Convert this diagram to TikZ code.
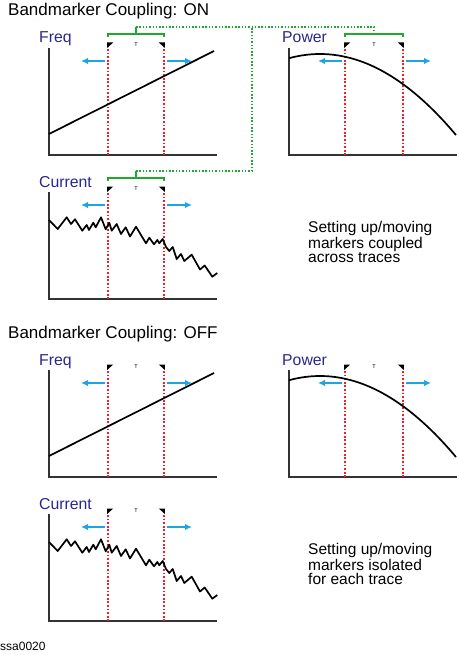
\documentclass[tikz,border=0pt]{standalone}
\usepackage{fontspec}
\setmainfont{Liberation Sans}
\usepackage{tikz}
\usepackage{xcolor}
\usetikzlibrary{positioning,arrows.meta}

\definecolor{lblblue}{RGB}{40,40,140}
\definecolor{mvblue}{RGB}{30,165,225}
\definecolor{mkred}{RGB}{240,30,40}
\definecolor{lnkgreen}{RGB}{30,170,50}

\tikzset{
  axis/.style={line width=1.3pt,black!80},
  trace/.style={line width=1.7pt,black,line join=round},
  mline/.style={line width=1.8pt,mkred,dash pattern=on 1.8pt off 1.8pt},
  mvarrow/.style={line width=1.4pt,mvblue,-{Latex[length=7pt,width=6.5pt]}},
  bracket/.style={line width=1.4pt,lnkgreen},
  link/.style={line width=1.5pt,lnkgreen,dash pattern=on 1.5pt off 1.8pt},
  lbl/.style={font=\fontsize{15.8}{18}\selectfont,text=lblblue,inner sep=0pt},
  heading/.style={font=\fontsize{17}{20}\selectfont,inner sep=0pt},
  note/.style={font=\fontsize{15.5}{14}\selectfont,align=left,inner sep=0pt},
  tmark/.style={font=\fontsize{5.5}{5.5}\selectfont,inner sep=0pt}
}

\begin{document}
\begin{tikzpicture}[x=1pt,y=-1pt,>=Latex]
  \useasboundingbox (0,0) rectangle (458,655);

  % headings
  \node[heading,anchor=base west] (head-on) at (8,16) {Bandmarker Coupling: ON};
  \node[heading,anchor=base west] (head-off) at (8,338) {Bandmarker Coupling: OFF};

  % both sections: panels, markers, traces
  \foreach \sec/\dy in {on/0,off/322} {
    \begin{scope}[shift={(0,\dy)}]
      \foreach \px/\py/\lx/\ml/\mr/\name/\lab in
        {49/155/39/108/164/fq/Freq, 289/155/282/345/403/pw/Power, 49/299/39/108/164/cu/Current} {
        \draw[axis] (\px,\py-107) -- (\px,\py) -- (\px+168,\py);
        \node[lbl,anchor=base west] (\name-\sec) at (\lx,\py-112) {\lab};
        % band markers
        \draw[mline] (\ml,\py-106) -- (\ml,\py);
        \draw[mline] (\mr,\py-106) -- (\mr,\py);
        \fill (\ml-0.8,\py-112.5) -- ++(6,0) -- ++(-6,5.5) -- cycle;
        \fill (\mr+0.8,\py-112.5) -- ++(-6,0) -- ++(6,5.5) -- cycle;
        \node[tmark] (\name-t-\sec) at ({(\ml+\mr)/2},\py-110) {T};
        % move arrows
        \draw[mvarrow] (\ml-3,\py-94) -- (\ml-27,\py-94);
        \draw[mvarrow] (\mr+3,\py-94) -- (\mr+28,\py-94);
      }
      % Freq trace
      \draw[trace] (49,134) -- (214,51);
      % Power trace
      \draw[trace] plot[domain=289:456,samples=50] (\x,{54+(0.0662*(\x-320))^2});
      % Current trace
      \draw[trace] (49,220) -- (57.7,229) -- (66.7,217.3) -- (71,224) -- (75,219.3)
        -- (82.3,230.7) -- (86.7,225) -- (89,230) -- (93.3,222.7) -- (95.7,227.3)
        -- (101,217.3) -- (105.7,229.3) -- (109.3,222.7) -- (111.7,230.7) -- (116.7,224)
        -- (121,234) -- (125.7,227.3) -- (130,236.5) -- (136,226.7) -- (146,243.3)
        -- (149.3,237.7) -- (154,244.3) -- (157.3,240) -- (159.3,243.3) -- (162.7,239)
        -- (166,247) -- (169.3,251) -- (172.7,247) -- (176.7,259) -- (181,254)
        -- (184.3,261) -- (191.7,254.7) -- (200,269.5) -- (204.7,265.5) -- (212.3,276.7)
        -- (217.3,273);
    \end{scope}
  }

  % coupling brackets (ON only)
  \foreach \py/\ml/\mr/\name in {155/108/164/fq, 155/345/403/pw, 299/108/164/cu} {
    \draw[bracket] (\ml,\py-118) -- (\ml,\py-121) -- (\mr,\py-121) -- (\mr,\py-118);
    \coordinate (\name-br) at ({(\ml+\mr)/2},\py-121);
  }
  \draw[bracket] (fq-br) -- ++(0,-7) coordinate (fq-tip);
  \draw[bracket] (cu-br) -- ++(0,-7) coordinate (cu-tip);
  \coordinate (jn) at (252,27);
  \draw[link] (fq-tip) -| (pw-br);
  \draw[link] (cu-tip) -| (jn);

  % notes
  \node[note,anchor=north west] (note-on) at (308,221.5)
    {Setting up/moving\\markers coupled\\across traces};
  \node[note,anchor=north west] (note-off) at (308,543.5)
    {Setting up/moving\\markers isolated\\for each trace};

  \node[anchor=base west,inner sep=0pt,font=\fontsize{12}{14}\selectfont] (fig-id) at (0,650) {ssa0020};
\end{tikzpicture}
\end{document}
